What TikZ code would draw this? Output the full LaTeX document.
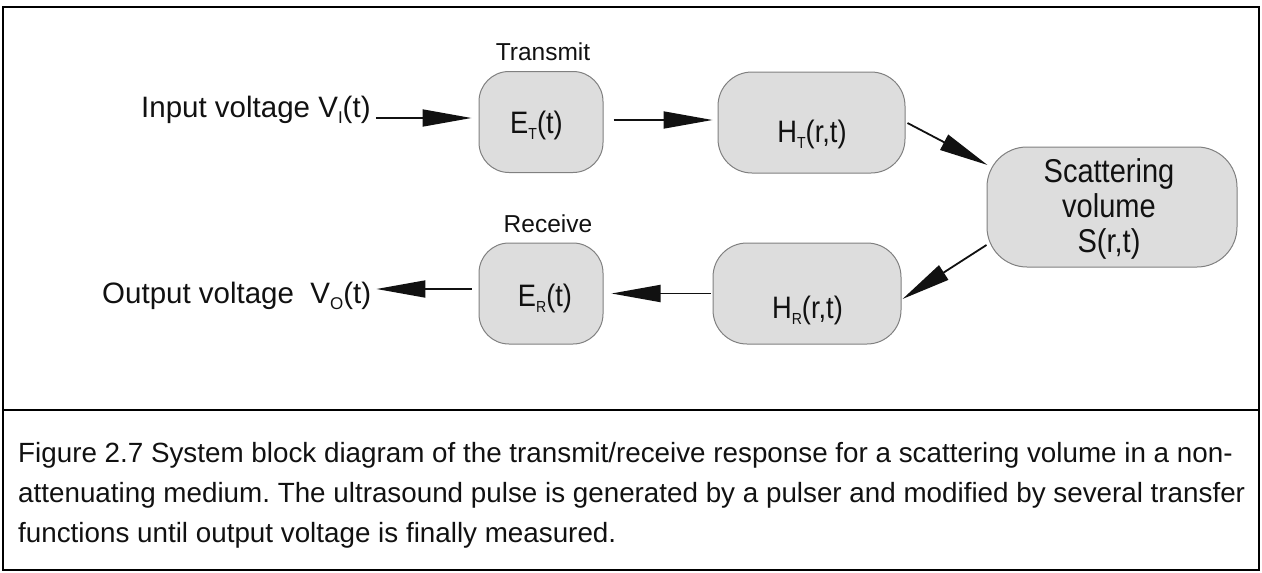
\documentclass[tikz,border=0pt]{standalone}
\usepackage{fontspec}
\setmainfont{Liberation Sans}
\newfontfamily\narrowsans[FakeStretch=0.88]{Liberation Sans}
\usetikzlibrary{arrows.meta}
\frenchspacing

\definecolor{blockfill}{HTML}{DDDDDD}
\definecolor{blockline}{HTML}{808080}
\definecolor{ink}{HTML}{111111}

% small lowered index letter, as in V_I or E_T
\newcommand\lowidx[2][16]{\raisebox{-0.22em}{\fontsize{#1}{#1}\selectfont #2}}

\tikzset{
  block/.style={draw=blockline, fill=blockfill, line width=1pt,
                rounded corners=#1, inner sep=0pt},
  block/.default=30pt,
  plain/.style={inner sep=0pt, text=ink},
  tlabel/.style={plain, anchor=base, font=\fontsize{24.5}{24.5}\selectfont},
  iolabel/.style={plain, anchor=base west, font=\fontsize{29.5}{29.5}\selectfont},
  btext/.style={plain, anchor=base, font=\narrowsans\fontsize{31}{31}\selectfont},
  stext/.style={plain, anchor=base, font=\narrowsans\fontsize{33}{33}\selectfont},
  captext/.style={plain, anchor=base west, font=\fontsize{27.8}{27.8}\selectfont},
  arr/.style={line width=1.8pt, draw=ink, -{Triangle[length=49pt,width=17pt]}},
  frame/.style={line width=2.6pt, draw=black}
}

\begin{document}
\begin{tikzpicture}[x=1pt,y=-1pt]
\useasboundingbox (0,0) rectangle (1262,573);

% outer frame and caption divider
\draw[frame] (3,7) rectangle (1259,570);
\draw[frame] (3,410) -- (1259,410);

% blocks
\node[block, minimum width=124pt, minimum height=101pt] (ET) at (541,122) {};
\node[block=34pt, minimum width=187pt, minimum height=101pt] (HT) at (811.5,122.5) {};
\node[block=40pt, minimum width=250pt, minimum height=120pt] (SV) at (1112,207) {};
\node[block=34pt, minimum width=188pt, minimum height=101pt] (HR) at (807,293.5) {};
\node[block, minimum width=124pt, minimum height=101pt] (ER) at (541,293.5) {};

% block texts
\node[btext] (ETt) at (536.5,133) {E\lowidx{T}(t)};
\node[btext] (HTt) at (812,142) {H\lowidx{T}(r,t)};
\node[btext] (ERt) at (545,306) {E\lowidx{R}(t)};
\node[btext] (HRt) at (807.5,318) {H\lowidx{R}(r,t)};
\node[stext] (SV1) at (1109,182) {Scattering};
\node[stext] (SV2) at (1109,217) {volume};
\node[stext] (SV3) at (1109,252) {S(r,t)};

% stage labels
\node[tlabel] (tx) at (543,60) {Transmit};
\node[tlabel] (rx) at (548,232) {Receive};

% input and output
\node[iolabel] (inlab) at (141,117) {Input voltage V\lowidx[17]{I}(t)};
\node[iolabel] (outlab) at (102,303) {Output voltage\ \ V\lowidx[17]{O}(t)};

% signal path
\draw[arr] ([shift={(5,1)}]inlab.base east) -- ([shift={(-7,-4)}]ET.west);
\draw[arr] ([shift={(10,-2)}]ET.east) -- ([shift={(-5,-2.5)}]HT.west);
\draw[arr] ([shift={(2,0.5)}]HT.east) -- ([shift={(1,-42)}]SV.west);
\draw[arr] ([shift={(0,38)}]SV.west) -- ([shift={(1,5.5)}]HR.east);
\draw[arr] ([shift={(-2,0)}]HR.west) -- ([shift={(8,0)}]ER.east);
\draw[arr] ([shift={(-7,-4.5)}]ER.west) -- ([shift={(5,-14)}]outlab.base east);

% caption
\node[captext] (cap1) at (18,462) {Figure 2.7 System block diagram of the transmit/receive response for a scattering volume in a non-};
\node[captext] (cap2) at (18,502) {attenuating medium. The ultrasound pulse is generated by a pulser and modified by several transfer};
\node[captext] (cap3) at (18,542) {functions until output voltage is finally measured.};
\end{tikzpicture}
\end{document}
